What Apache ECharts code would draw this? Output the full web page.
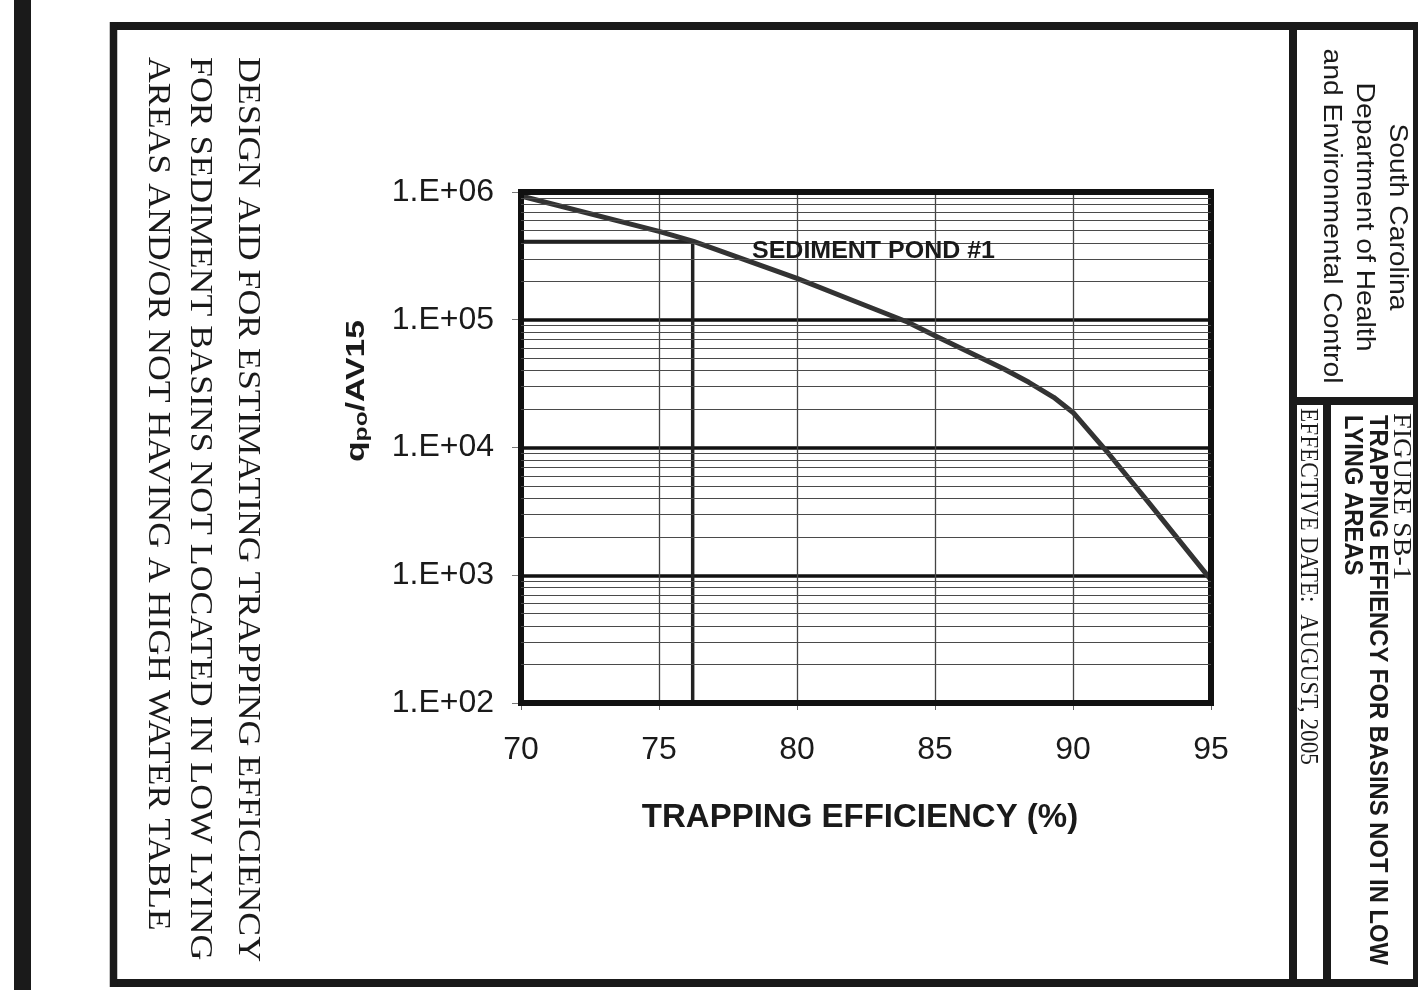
<!DOCTYPE html>
<html><head><meta charset="utf-8">
<script src="https://cdn.jsdelivr.net/npm/echarts@6/dist/echarts.min.js"></script>
<style>html,body{margin:0;padding:0;background:#fff}#c{width:1418px;height:990px}</style>
</head><body><div id="c"></div>
<script>
// ---- data ----
const EFFICIENCY = [70, 75, 76.25, 80, 82, 84, 85, 87.5, 88.4, 89.3, 90, 91.3, 92.7, 95];
const QPO_AV15   = [9.3e5, 4.92e5, 4.1e5, 2.11e5, 1.42e5, 9.6e4, 7.5e4, 4.12e4, 3.24e4, 2.47e4, 1.88e4, 8.9e3, 3.8e3, 9.2e2];
const POND_EFFICIENCY = 76.22;
const POND_RATIO = 4.1e5;
const POND_LABEL = 'SEDIMENT POND #1';
const X_TICKS = [70, 75, 80, 85, 90, 95];
const Y_TICK_LABELS = ['1.E+02', '1.E+03', '1.E+04', '1.E+05', '1.E+06'];
const MINOR_GRID = [200,300,400,500,600,700,800,900,
  2000,3000,4000,5000,6000,7000,8000,9000,
  20000,30000,40000,50000,60000,70000,80000,90000,
  200000,300000,400000,500000,600000,700000,800000,900000];
const X_TITLE = 'TRAPPING EFFICIENCY (%)';
const Y_TITLE = ['q', 'po', '/AV15'];
const LEFT_LINES = ['DESIGN AID FOR ESTIMATING TRAPPING EFFICIENCY',
  'FOR SEDIMENT BASINS NOT LOCATED IN LOW LYING',
  'AREAS AND/OR NOT HAVING A HIGH WATER TABLE'];
const AGENCY = ['South Carolina', 'Department of Health', 'and Environmental Control'];
const FIG_NO = 'FIGURE SB-1';
const FIG_TITLE = ['TRAPPING EFFIENCY FOR BASINS NOT IN LOW', 'LYING AREAS'];
const EFF_DATE = 'EFFECTIVE DATE:  AUGUST, 2005';

// ---- helpers ----
const mctx = document.createElement('canvas').getContext('2d');
function measure(text, size, family, weight) {
  mctx.font = (weight || 'normal') + ' ' + size + 'px ' + family;
  return mctx.measureText(text).width;
}
const SERIF = '"Liberation Serif", "Times New Roman", serif';
const SANS = '"Liberation Sans", Arial, sans-serif';
const INK = '#1a1a1a';
function vtext(text, x, y, size, family, weight, sx, align) {
  return {
    type: 'text', x: x, y: y, rotation: -Math.PI / 2, scaleX: sx, z: 10,
    style: { text: text, fontSize: size, fontFamily: family, fontWeight: weight || 'normal',
      fill: INK, align: align || 'left', verticalAlign: 'middle' }
  };
}

const graphics = [];
// frame
graphics.push({ type: 'rect', shape: { x: 14, y: 0, width: 17, height: 990 }, style: { fill: INK }, z: 1 });
graphics.push({ type: 'line', shape: { x1: 110, y1: 26, x2: 1418, y2: 26 }, style: { stroke: INK, lineWidth: 8 }, z: 1 });
graphics.push({ type: 'line', shape: { x1: 110, y1: 983, x2: 1418, y2: 983 }, style: { stroke: INK, lineWidth: 8 }, z: 1 });
graphics.push({ type: 'line', shape: { x1: 113.5, y1: 22, x2: 113.5, y2: 987 }, style: { stroke: INK, lineWidth: 7.5 }, z: 1 });
graphics.push({ type: 'line', shape: { x1: 1415.5, y1: 22, x2: 1415.5, y2: 987 }, style: { stroke: INK, lineWidth: 5 }, z: 1 });
graphics.push({ type: 'line', shape: { x1: 1293, y1: 26, x2: 1293, y2: 983 }, style: { stroke: INK, lineWidth: 8 }, z: 1 });
graphics.push({ type: 'line', shape: { x1: 1293, y1: 401, x2: 1415, y2: 401 }, style: { stroke: INK, lineWidth: 8 }, z: 1 });
graphics.push({ type: 'line', shape: { x1: 1327, y1: 401, x2: 1327, y2: 983 }, style: { stroke: INK, lineWidth: 8 }, z: 1 });

// left description
const lsz = 32;
const lsx = 905 / measure(LEFT_LINES[0], lsz, SERIF);
graphics.push(vtext(LEFT_LINES[0], 247, 57, lsz, SERIF, 'normal', lsx));
graphics.push(vtext(LEFT_LINES[1], 199, 57, lsz, SERIF, 'normal', lsx));
graphics.push(vtext(LEFT_LINES[2], 157, 57, lsz, SERIF, 'normal', lsx));

// agency block
const asz = 26;
const asx = 335 / measure(AGENCY[2], asz, SANS);
graphics.push(vtext(AGENCY[0], 1397, 217, asz, SANS, 'normal', asx, 'center'));
graphics.push(vtext(AGENCY[1], 1364, 217, asz, SANS, 'normal', asx, 'center'));
graphics.push(vtext(AGENCY[2], 1331, 216, asz, SANS, 'normal', asx, 'center'));

// figure block
const fsz = 26;
graphics.push(vtext(FIG_NO, 1401, 413, fsz, SERIF, 'normal', 167 / measure(FIG_NO, fsz, SERIF)));
const tsz = 25;
const tsx = 550 / measure(FIG_TITLE[0], tsz, SANS, 'bold');
graphics.push(vtext(FIG_TITLE[0], 1377, 415, tsz, SANS, 'bold', tsx));
graphics.push(vtext(FIG_TITLE[1], 1352, 415, tsz, SANS, 'bold', tsx));
graphics.push(vtext(EFF_DATE, 1308, 408, fsz, SERIF, 'normal', 357 / measure(EFF_DATE, fsz, SERIF)));

// pond label
const psz = 24;
graphics.push({ type: 'text', x: 752, y: 251, z: 10, scaleX: 243 / measure(POND_LABEL, psz, SANS, 'bold'),
  style: { text: POND_LABEL, fontSize: psz, fontFamily: SANS, fontWeight: 'bold', fill: INK, align: 'left', verticalAlign: 'middle' } });

// y axis title (rotated, reads bottom to top)
const yq = 26, ys = 19;
const ytw = measure(Y_TITLE[0], yq, SANS, 'bold') + measure(Y_TITLE[1], ys, SANS, 'bold') + measure(Y_TITLE[2], yq, SANS, 'bold');
graphics.push({ type: 'text', x: 357, y: 391, rotation: Math.PI / 2, scaleX: 142 / ytw, z: 10,
  style: { text: '{q|' + Y_TITLE[0] + '}{s|' + Y_TITLE[1] + '}{q|' + Y_TITLE[2] + '}', align: 'center', verticalAlign: 'middle',
    rich: {
      q: { fontSize: yq, fontWeight: 'bold', fontFamily: SANS, fill: INK },
      s: { fontSize: ys, fontWeight: 'bold', fontFamily: SANS, fill: INK, padding: [9, 0, 0, 0] }
    } } });

const chart = echarts.init(document.getElementById('c'), null, { renderer: 'canvas' });
chart.setOption({
  backgroundColor: '#fff',
  animation: false,
  grid: { left: 521, top: 192, width: 690, height: 511, show: true, borderColor: '#111', borderWidth: 6, backgroundColor: 'transparent', z: 5 },
  xAxis: {
    type: 'value', min: X_TICKS[0], max: X_TICKS[X_TICKS.length - 1], interval: 5,
    name: X_TITLE, nameLocation: 'middle', nameGap: 98,
    nameTextStyle: { fontSize: 33, fontWeight: 'bold', fontFamily: SANS, color: INK, padding: [0, 12, 0, 0] },
    axisLine: { show: false },
    axisTick: { show: true, length: 7, lineStyle: { color: '#666', width: 1 } },
    axisLabel: { margin: 31, fontSize: 32, fontFamily: SANS, color: INK },
    splitLine: { show: true, lineStyle: { color: '#444', width: 1.3 } }
  },
  yAxis: {
    type: 'log', logBase: 10, min: 100, max: 1e6,
    axisLine: { show: false },
    axisTick: { show: true, length: 9, lineStyle: { color: '#777', width: 1 } },
    axisLabel: { margin: 27, fontSize: 32, fontFamily: SANS, color: INK,
      formatter: function (v) { return Y_TICK_LABELS[Math.round(Math.log10(v)) - 2]; } },
    splitLine: { show: true, lineStyle: { color: '#111', width: 3.5 } },
    minorTick: { show: false }, minorSplitLine: { show: false }
  },
  series: [
    {
      type: 'line', name: 'minor', data: [], silent: true, z: 1,
      markLine: {
        silent: true, symbol: ['none', 'none'], label: { show: false },
        lineStyle: { color: '#4a4a4a', width: 1, type: 'solid' },
        data: MINOR_GRID.map(function (v) { return { yAxis: v }; })
      }
    },
    {
      type: 'line', name: 'pond', z: 3, showSymbol: false, symbol: 'none', silent: true,
      lineStyle: { color: '#222', width: 3.5 },
      data: [[X_TICKS[0], POND_RATIO], [POND_EFFICIENCY, POND_RATIO], [POND_EFFICIENCY, 100]]
    },
    {
      type: 'line', name: 'curve', z: 4, showSymbol: false, symbol: 'none', smooth: false,
      lineStyle: { color: '#333', width: 5, join: 'round', cap: 'round' },
      data: EFFICIENCY.map(function (x, i) { return [x, QPO_AV15[i]]; })
    }
  ],
  graphic: graphics
});
</script>
</body></html>
